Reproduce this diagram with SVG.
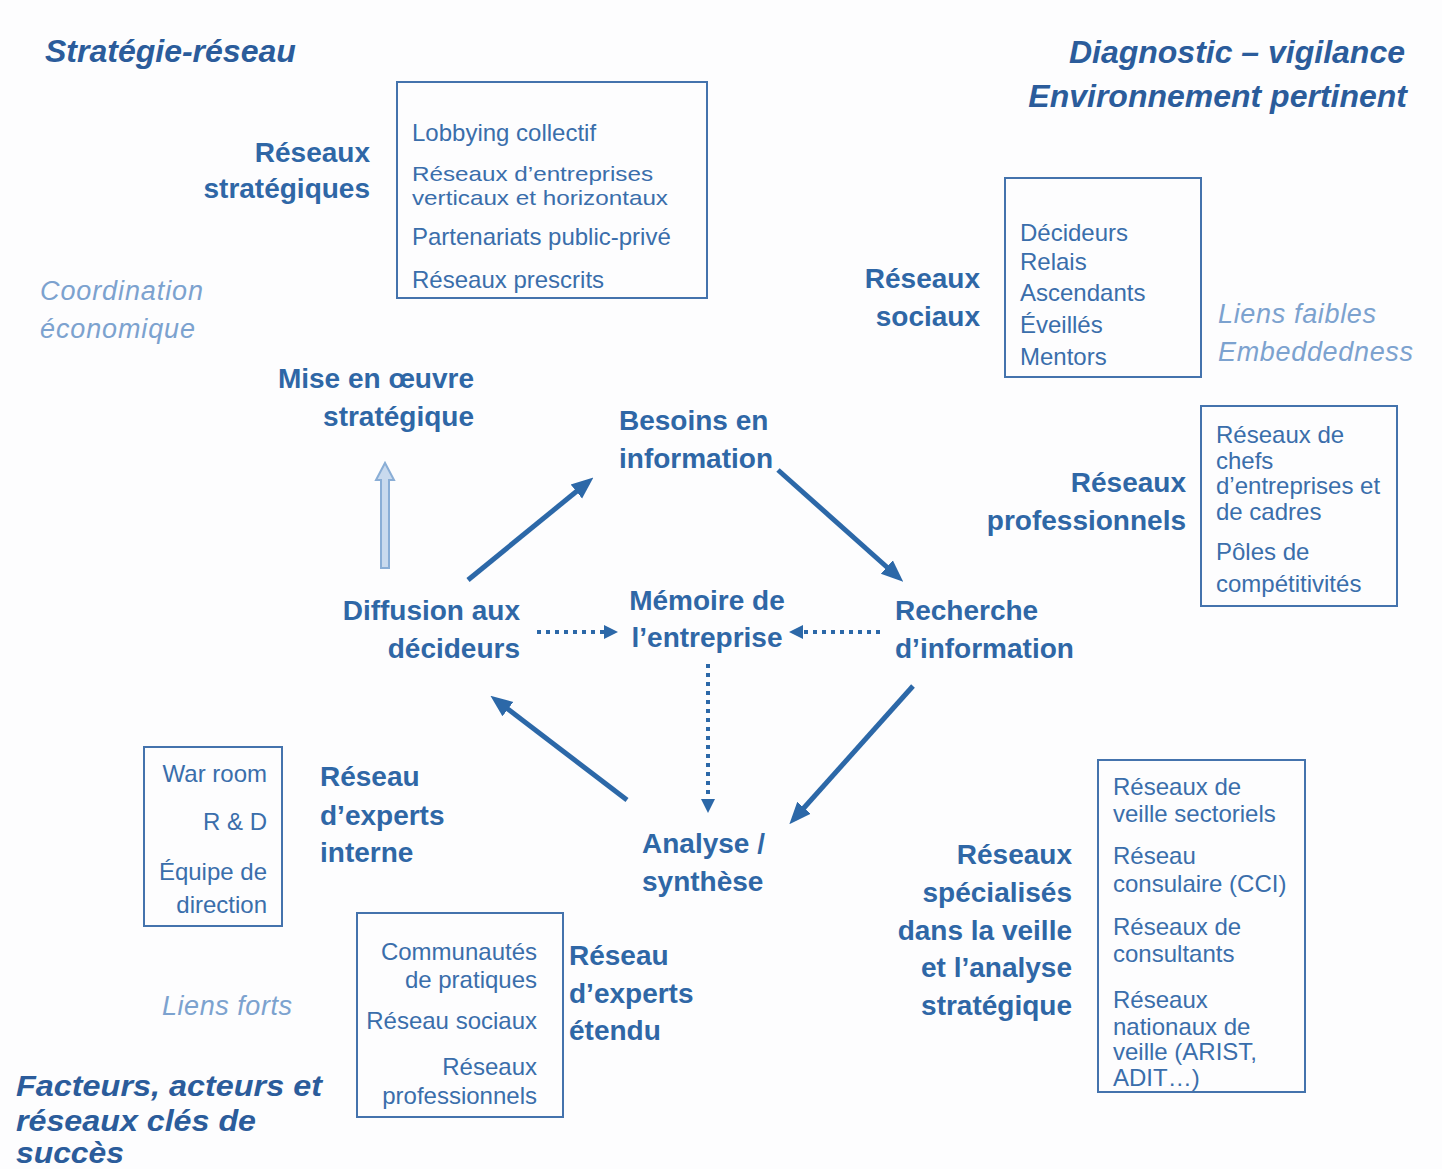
<svg xmlns="http://www.w3.org/2000/svg" width="1442" height="1169" viewBox="0 0 1442 1169">
  <defs>
    <style>
      text { font-family: "Liberation Sans", Arial, sans-serif; }
      .title { font-size: 32px; font-weight: bold; font-style: italic; fill: #2b5c9b; }
      .foot { font-size: 30px; }
      .lbl { font-size: 28px; font-weight: bold; fill: #2f67a6; }
      .note { font-size: 27px; font-style: italic; fill: #7ca2cf; }
      .item { font-size: 24px; fill: #3a6eab; }
      .tight { font-size: 21px; }
      .box { fill: none; stroke: #4473ad; stroke-width: 2; }
      .flow { stroke: #2c68a8; stroke-width: 5; fill: none; marker-end: url(#head); }
      .dots { stroke: #2c68a8; stroke-width: 4; stroke-dasharray: 4 5; fill: none; marker-end: url(#smallhead); }
    </style>
    <marker id="head" markerUnits="userSpaceOnUse" viewBox="0 0 22 20" markerWidth="22" markerHeight="20" refX="15" refY="10" orient="auto">
      <path d="M0,1 L22,10 L0,19 Z" fill="#2c68a8"/>
    </marker>
    <marker id="smallhead" markerUnits="userSpaceOnUse" viewBox="0 0 14 14" markerWidth="14" markerHeight="14" refX="4" refY="7" orient="auto">
      <path d="M0,0 L14,7 L0,14 Z" fill="#2c68a8"/>
    </marker>
  </defs>

  <rect width="1442" height="1169" fill="#fdfdfe"/>

  <!-- corner headings -->
  <g id="heading-strategie">
    <text class="title" x="45" y="62">Stratégie-réseau</text>
  </g>
  <g id="heading-diagnostic">
    <text class="title" x="1405" y="63" text-anchor="end">Diagnostic – vigilance</text>
    <text class="title" x="1407" y="107" text-anchor="end">Environnement pertinent</text>
  </g>
  <g id="heading-facteurs">
    <text class="title foot" x="16" y="1096" textLength="306" lengthAdjust="spacingAndGlyphs">Facteurs, acteurs et</text>
    <text class="title foot" x="16" y="1131" textLength="240" lengthAdjust="spacingAndGlyphs">réseaux clés de</text>
    <text class="title foot" x="16" y="1163" textLength="108" lengthAdjust="spacingAndGlyphs">succès</text>
  </g>

  <!-- side notes -->
  <g id="note-coordination">
    <text class="note" x="40" y="300" textLength="163" lengthAdjust="spacing">Coordination</text>
    <text class="note" x="40" y="338" textLength="155" lengthAdjust="spacing">économique</text>
  </g>
  <g id="note-liens-faibles">
    <text class="note" x="1218" y="323" textLength="158" lengthAdjust="spacing">Liens faibles</text>
    <text class="note" x="1218" y="361" textLength="195" lengthAdjust="spacing">Embeddedness</text>
  </g>
  <g id="note-liens-forts">
    <text class="note" x="162" y="1015" textLength="130" lengthAdjust="spacing">Liens forts</text>
  </g>

  <!-- strategic networks -->
  <g id="reseaux-strategiques">
    <text class="lbl" x="370" y="162" text-anchor="end">Réseaux</text>
    <text class="lbl" x="370" y="198" text-anchor="end">stratégiques</text>
    <rect class="box" x="397" y="82" width="310" height="216"/>
    <text class="item" x="412" y="141">Lobbying collectif</text>
    <text class="item tight" x="412" y="181" textLength="241" lengthAdjust="spacingAndGlyphs">Réseaux d’entreprises</text>
    <text class="item tight" x="412" y="205" textLength="256" lengthAdjust="spacingAndGlyphs">verticaux et horizontaux</text>
    <text class="item" x="412" y="245">Partenariats public-privé</text>
    <text class="item" x="412" y="288">Réseaux prescrits</text>
  </g>

  <!-- social networks -->
  <g id="reseaux-sociaux">
    <text class="lbl" x="980" y="288" text-anchor="end">Réseaux</text>
    <text class="lbl" x="980" y="326" text-anchor="end">sociaux</text>
    <rect class="box" x="1005" y="178" width="196" height="199"/>
    <text class="item" x="1020" y="241">Décideurs</text>
    <text class="item" x="1020" y="270">Relais</text>
    <text class="item" x="1020" y="301">Ascendants</text>
    <text class="item" x="1020" y="333">Éveillés</text>
    <text class="item" x="1020" y="365">Mentors</text>
  </g>

  <!-- professional networks -->
  <g id="reseaux-professionnels">
    <text class="lbl" x="1186" y="492" text-anchor="end">Réseaux</text>
    <text class="lbl" x="1186" y="530" text-anchor="end">professionnels</text>
    <rect class="box" x="1201" y="406" width="196" height="200"/>
    <text class="item" x="1216" y="443">Réseaux de</text>
    <text class="item" x="1216" y="469">chefs</text>
    <text class="item" x="1216" y="494">d’entreprises et</text>
    <text class="item" x="1216" y="520">de cadres</text>
    <text class="item" x="1216" y="560">Pôles de</text>
    <text class="item" x="1216" y="592">compétitivités</text>
  </g>

  <!-- specialised monitoring networks -->
  <g id="reseaux-specialises">
    <text class="lbl" x="1072" y="864" text-anchor="end">Réseaux</text>
    <text class="lbl" x="1072" y="902" text-anchor="end">spécialisés</text>
    <text class="lbl" x="1072" y="940" text-anchor="end">dans la veille</text>
    <text class="lbl" x="1072" y="977" text-anchor="end">et l’analyse</text>
    <text class="lbl" x="1072" y="1015" text-anchor="end">stratégique</text>
    <rect class="box" x="1098" y="760" width="207" height="332"/>
    <text class="item" x="1113" y="795">Réseaux de</text>
    <text class="item" x="1113" y="822">veille sectoriels</text>
    <text class="item" x="1113" y="864">Réseau</text>
    <text class="item" x="1113" y="892">consulaire (CCI)</text>
    <text class="item" x="1113" y="935">Réseaux de</text>
    <text class="item" x="1113" y="962">consultants</text>
    <text class="item" x="1113" y="1008">Réseaux</text>
    <text class="item" x="1113" y="1035">nationaux de</text>
    <text class="item" x="1113" y="1060">veille (ARIST,</text>
    <text class="item" x="1113" y="1086">ADIT…)</text>
  </g>

  <!-- internal experts -->
  <g id="experts-interne">
    <rect class="box" x="144" y="747" width="138" height="179"/>
    <text class="item" x="267" y="782" text-anchor="end">War room</text>
    <text class="item" x="267" y="830" text-anchor="end">R &amp; D</text>
    <text class="item" x="267" y="880" text-anchor="end">Équipe de</text>
    <text class="item" x="267" y="913" text-anchor="end">direction</text>
    <text class="lbl" x="320" y="786">Réseau</text>
    <text class="lbl" x="320" y="825">d’experts</text>
    <text class="lbl" x="320" y="862">interne</text>
  </g>

  <!-- extended experts -->
  <g id="experts-etendu">
    <rect class="box" x="357" y="913" width="206" height="204"/>
    <text class="item" x="537" y="960" text-anchor="end">Communautés</text>
    <text class="item" x="537" y="988" text-anchor="end">de pratiques</text>
    <text class="item" x="537" y="1029" text-anchor="end">Réseau sociaux</text>
    <text class="item" x="537" y="1075" text-anchor="end">Réseaux</text>
    <text class="item" x="537" y="1104" text-anchor="end">professionnels</text>
    <text class="lbl" x="569" y="965">Réseau</text>
    <text class="lbl" x="569" y="1003">d’experts</text>
    <text class="lbl" x="569" y="1040">étendu</text>
  </g>

  <!-- intelligence cycle steps -->
  <g id="mise-en-oeuvre">
    <text class="lbl" x="474" y="388" text-anchor="end">Mise en œuvre</text>
    <text class="lbl" x="474" y="426" text-anchor="end">stratégique</text>
  </g>
  <g id="besoins">
    <text class="lbl" x="619" y="430">Besoins en</text>
    <text class="lbl" x="619" y="468">information</text>
  </g>
  <g id="diffusion">
    <text class="lbl" x="520" y="620" text-anchor="end">Diffusion aux</text>
    <text class="lbl" x="520" y="658" text-anchor="end">décideurs</text>
  </g>
  <g id="memoire">
    <text class="lbl" x="707" y="610" text-anchor="middle">Mémoire de</text>
    <text class="lbl" x="707" y="647" text-anchor="middle">l’entreprise</text>
  </g>
  <g id="recherche">
    <text class="lbl" x="895" y="620">Recherche</text>
    <text class="lbl" x="895" y="658">d’information</text>
  </g>
  <g id="analyse">
    <text class="lbl" x="642" y="853">Analyse /</text>
    <text class="lbl" x="642" y="891">synthèse</text>
  </g>

  <!-- connectors -->
  <g id="connectors">
    <line class="flow" x1="468" y1="580" x2="588" y2="482"/>
    <line class="flow" x1="778" y1="470" x2="898" y2="577"/>
    <line class="flow" x1="913" y1="686" x2="794" y2="819"/>
    <line class="flow" x1="627" y1="800" x2="496" y2="700"/>
    <line class="dots" x1="537" y1="632" x2="608" y2="632"/>
    <line class="dots" x1="880" y1="632" x2="799" y2="632"/>
    <line class="dots" x1="708" y1="664" x2="708" y2="803"/>
    <path d="M381,568 L381,480 L376,480 L385,463 L394,480 L389,480 L389,568 Z" fill="#c9daee" stroke="#8aaed6" stroke-width="2"/>
  </g>
</svg>
